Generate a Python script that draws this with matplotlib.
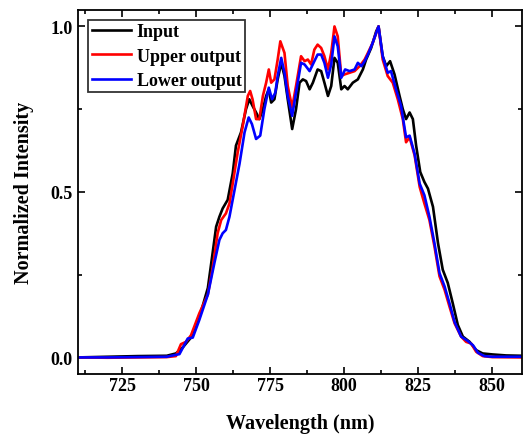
import numpy as np
import matplotlib
matplotlib.use('Agg')
import matplotlib.pyplot as plt
from matplotlib.ticker import MultipleLocator

# Input spectrum
wl_in = [710, 720, 730, 740, 743.1, 745.4, 748.2, 751, 753.9, 755.5, 756.7, 757.8, 758.9, 760.6,
         762.3, 763.4, 765.1, 766.8, 767.9, 769, 770.2, 771.3, 772.5, 773.6, 774.5, 775.3, 776.4,
         777.5, 778.7, 779.8, 780.9, 782.4, 783.7, 784.9, 786, 787.1, 788.3, 789.4, 791, 792.2,
         793.3, 794.5, 795.6, 796.7, 797.8, 799, 800.1, 801.2, 802.9, 804.6, 806.3, 807.4, 809.1,
         810.8, 811.6, 813, 814.2, 815.5, 817, 818.7, 819.8, 820.9, 822.1, 823.2, 824.3, 825.7,
         827.1, 828.3, 830, 831.7, 833.3, 835, 836.7, 838.4, 840.1, 842.4, 844.6, 846.8, 850.1,
         854.7, 860]
int_in = [0.0, 0.002, 0.004, 0.005, 0.012, 0.03, 0.06, 0.12, 0.21, 0.315, 0.395, 0.425, 0.45, 0.476,
          0.556, 0.64, 0.68, 0.75, 0.78, 0.76, 0.74, 0.72, 0.75, 0.79, 0.81, 0.77, 0.78,
          0.84, 0.89, 0.85, 0.78, 0.69, 0.75, 0.83, 0.84, 0.835, 0.81, 0.83, 0.87, 0.865,
          0.83, 0.79, 0.82, 0.905, 0.89, 0.81, 0.82, 0.81, 0.83, 0.84, 0.87, 0.9, 0.935,
          0.985, 1.0, 0.91, 0.88, 0.895, 0.855, 0.79, 0.75, 0.72, 0.74, 0.72, 0.64, 0.56,
          0.53, 0.51, 0.455, 0.345, 0.265, 0.225, 0.163, 0.098, 0.063, 0.047, 0.022, 0.012, 0.009,
          0.006, 0.005]

# Upper output
wl_up = [710, 720, 730, 740, 743.1, 744.8, 746.5, 748.2, 751, 753.9, 755.5, 757.2, 758.4, 760,
         761.2, 762.3, 764, 765.7, 767.4, 768.2, 769, 770.2, 771.3, 772.5, 773.6, 774.5, 775.3,
         776.4, 777.5, 778.4, 779.8, 780.9, 782.4, 783.7, 785.4, 786.6, 787.7, 788.8, 789.9, 791,
         792.2, 793.3, 794.5, 795.6, 796.7, 797.8, 799, 800.1, 801.8, 803.5, 805.2, 806.9, 808,
         809.6, 811.6, 813, 814.7, 816.4, 818.1, 819.8, 820.9, 822.1, 823.8, 825.5, 827.1, 828.8,
         830.5, 832.2, 833.9, 835.6, 837.3, 839.5, 841.2, 842.9, 844.6, 846.8, 850, 860]
int_up = [0.0, -0.001, 0.0, 0.001, 0.004, 0.04, 0.047, 0.067, 0.133, 0.19, 0.27, 0.375, 0.415, 0.435,
          0.465, 0.525, 0.62, 0.70, 0.79, 0.805, 0.78, 0.72, 0.72, 0.79, 0.83, 0.87, 0.83,
          0.84, 0.90, 0.955, 0.92, 0.82, 0.755, 0.82, 0.91, 0.895, 0.90, 0.885, 0.93, 0.945,
          0.935, 0.91, 0.87, 0.92, 1.0, 0.97, 0.85, 0.855, 0.86, 0.865, 0.88, 0.90, 0.92,
          0.95, 1.0, 0.90, 0.85, 0.83, 0.78, 0.72, 0.65, 0.665, 0.61, 0.515, 0.465, 0.415,
          0.335, 0.245, 0.205, 0.153, 0.103, 0.063, 0.047, 0.042, 0.017, 0.004, 0.001, 0.0]

# Lower output
wl_lo = [710, 720, 730, 740, 744.3, 745.9, 747.1, 748.8, 751, 753.9, 756.1, 757.8, 758.9, 760,
         761.2, 762.9, 764.6, 766.3, 767.7, 768.8, 770.2, 771.6, 773, 774.5, 775.6, 776.7, 777.5,
         778.7, 779.8, 780.9, 782.4, 783.7, 785.4, 786.6, 788.3, 789.9, 791, 792.2, 793.3, 794.5,
         795.6, 796.7, 797.8, 799, 800.3, 801.8, 803.5, 804.6, 805.8, 806.9, 808, 809.6, 811.6,
         813, 814.7, 815.8, 817.5, 819.2, 820.9, 822.1, 823.8, 825.5, 827.1, 828.8, 830.5, 832.2,
         833.9, 835.6, 837.3, 839.5, 841.7, 843.5, 845.2, 847.4, 850, 860]
int_lo = [0.0, 0.0, 0.001, 0.002, 0.01, 0.037, 0.057, 0.06, 0.113, 0.19, 0.285, 0.355, 0.375, 0.385,
          0.425, 0.505, 0.585, 0.68, 0.725, 0.705, 0.66, 0.67, 0.75, 0.815, 0.78, 0.80, 0.85,
          0.905, 0.86, 0.79, 0.73, 0.80, 0.89, 0.885, 0.865, 0.895, 0.915, 0.915, 0.89, 0.845,
          0.885, 0.97, 0.94, 0.845, 0.87, 0.865, 0.87, 0.89, 0.88, 0.895, 0.915, 0.95, 1.0,
          0.91, 0.86, 0.865, 0.81, 0.76, 0.665, 0.67, 0.615, 0.525, 0.49, 0.425, 0.345, 0.255,
          0.215, 0.163, 0.107, 0.063, 0.05, 0.037, 0.014, 0.004, 0.002, 0.002]

plt.rcParams['font.family'] = 'Liberation Serif'
plt.rcParams['font.weight'] = 'bold'

fig = plt.figure(figsize=(5.27, 4.35), dpi=100)
ax = fig.add_axes([0.148, 0.138, 0.842, 0.837])

ax.plot(wl_in, int_in, color='black', lw=1.9, label='Input')
ax.plot(wl_up, int_up, color='#ff0000', lw=1.9, label='Upper output')
ax.plot(wl_lo, int_lo, color='#0000ff', lw=1.9, label='Lower output')

ax.set_xlim(710, 860)
ax.set_ylim(-0.05, 1.05)
ax.xaxis.set_major_locator(MultipleLocator(25))
ax.xaxis.set_minor_locator(MultipleLocator(12.5))
ax.yaxis.set_major_locator(MultipleLocator(0.5))
ax.yaxis.set_minor_locator(MultipleLocator(0.25))
ax.tick_params(which='both', direction='in', top=True, right=True, width=1.2)
ax.tick_params(which='major', length=5, labelsize=13)
ax.tick_params(axis='x', which='major', pad=2)
ax.tick_params(axis='y', which='major', pad=4)
ax.tick_params(which='minor', length=3)
for s in ax.spines.values():
    s.set_linewidth(1.3)

ax.set_xlabel('Wavelength (nm)', fontsize=14.5, fontweight='bold', labelpad=14)
ax.set_ylabel('Normalized Intensity', fontsize=14.5, fontweight='bold', labelpad=12)

leg = ax.legend(loc='upper left', fontsize=13, frameon=True, fancybox=False,
                edgecolor='black', borderpad=0.2, handlelength=2.2, handletextpad=0.3,
                labelspacing=0.4, borderaxespad=0.55)
leg.get_frame().set_linewidth(1.3)

fig.savefig('out.png', dpi=100)
